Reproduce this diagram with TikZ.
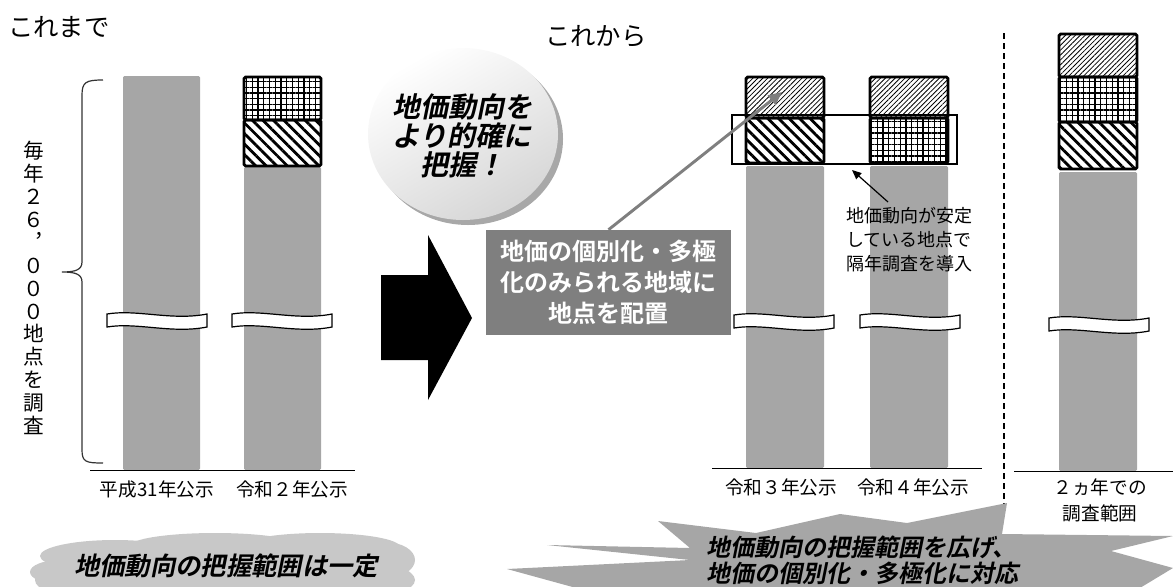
\documentclass[tikz,border=0pt]{standalone}
\usepackage{fontspec}
\setmainfont{Noto Sans CJK JP}
\newfontfamily\jpbi{Noto Sans CJK JP Bold}[FakeSlant=0.2]
\newfontfamily\jpb{Noto Sans CJK JP Bold}
\usetikzlibrary{patterns.meta,arrows.meta,shapes.geometric}
\definecolor{bargray}{HTML}{A6A6A6}
\definecolor{boxgray}{HTML}{7F7F7F}
\definecolor{cloudgray}{HTML}{C8C8C8}
\definecolor{burstgray}{HTML}{A6A6A6}
\definecolor{shadowgray}{HTML}{A8A8A8}
\tikzset{
  bar/.style={fill=bargray, rounded corners=1pt},
  pbox/.style={draw=black, line width=2.2pt, rounded corners=1.2pt},
  fine/.style={pbox, pattern={Lines[angle=45,distance=2.6pt,line width=0.6pt]}},
  wide/.style={pbox, pattern={Lines[angle=-45,distance=5.6pt,line width=2.1pt]}},
  gridp/.style={pbox, pattern={Hatch[angle=0,distance=4.3pt,line width=0.95pt]}},
  baseline/.style={line width=1.1pt},
  lbl/.style={font=\fontsize{14}{18}\selectfont, inner sep=0},
  brk/.pic={\draw[fill=white, line width=0.9pt] (0,0) .. controls (30,-5) and (65,7) .. (100,0) -- (100,13) .. controls (65,20) and (30,8) .. (0,13) -- cycle;}
}
\begin{document}
\begin{tikzpicture}[x=0.75pt,y=-0.75pt]
\useasboundingbox (0,0) rectangle (1173,586);
% headings
\node[anchor=west, inner sep=0, font=\fontsize{19}{22}\selectfont] (h1) at (8,27) {これまで};
\node[anchor=west, inner sep=0, font=\fontsize{19}{22}\selectfont] (h2) at (545,36) {これから};
% left group bars
\fill[bar] (123,76) rectangle (200,470);
\fill[bar] (244,167) rectangle (321,470);
\draw[gridp] (244,77) rectangle (321,120);
\draw[wide] (244,120) rectangle (321,166);
\draw[baseline] (90,470.5) -- (355,470.5);
\pic at (107,314) {brk};
\pic at (232,314) {brk};
\node[lbl] (l1) at (157,489) {平成31年公示};
\node[lbl] (l2) at (292,489) {令和２年公示};
% brace
\draw[line width=0.9pt, black!80] (103,80) .. controls (86,80) and (82,82) .. (82,95) -- (82,262) .. controls (82,270) and (75,272) .. (62,272) .. controls (75,272) and (82,274) .. (82,282) -- (82,450) .. controls (82,462) and (86,463) .. (103,463);
\node[inner sep=0, align=center, font=\fontsize{15.5}{17.2}\selectfont] (vt) at (34,288) {毎\\年\\２\\６\\︐\\０\\０\\０\\地\\点\\を\\調\\査};
% big black arrow
\fill[black] (381,275) -- (428,275) -- (428,235) -- (472,318) -- (428,400) -- (428,360) -- (381,360) -- cycle;
% right group bars
\fill[bar] (746,166) rectangle (824,468);
\fill[bar] (870,166) rectangle (948,468);
\draw[fine] (746,77) rectangle (824,118);
\draw[wide] (746,118) rectangle (824,163);
\draw[fine] (870,77) rectangle (948,118);
\draw[gridp] (870,118) rectangle (948,163);
\draw[baseline] (712,468.5) -- (982,468.5);
\pic at (734,315) {brk};
\pic at (860,315) {brk};
\node[lbl] (l3) at (781,487) {令和３年公示};
\node[lbl] (l4) at (913,487) {令和４年公示};
% highlight band
\node[draw, line width=0.8pt, minimum width=168.75pt, minimum height=36.75pt, inner sep=0] (band) at (844.5,139.5) {};
% dashed divider
\draw[line width=1pt, dash pattern=on 4.5pt off 3pt] (1004,33) -- (1004,507);
% right bar
\fill[bar] (1059,172) rectangle (1137,471);
\draw[fine] (1059,34) rectangle (1137,77);
\draw[gridp] (1059,77) rectangle (1137,122);
\draw[wide] (1059,122) rectangle (1137,169);
\draw[baseline] (1014,471.5) -- (1173,471.5);
\pic at (1049,318) {brk};
\node[lbl, align=center, font=\fontsize{14}{19.5}\selectfont] (l5) at (1100,500) {２ヵ年での\\調査範囲};
% annotation
\node[anchor=north west, inner sep=0, align=left, font=\fontsize{13.5}{18}\selectfont] (ann) at (846,207) {地価動向が安定\\している地点で\\隔年調査を導入};
\coordinate (annStart) at (888,202);
\coordinate (bandTip) at (852,170);
\draw[line width=0.9pt, -{Triangle[length=7pt,width=6pt]}] (annStart) -- (bandTip);
% circle
\fill[shadowgray] (468,139) ellipse [x radius=95, y radius=86];
\shade[shading=axis, top color=white, bottom color=black!16, shading angle=30] (463,134) ellipse [x radius=95, y radius=86];
\node[align=center, inner sep=0, font={\jpbi\fontsize{21}{21.5}\selectfont}] (goal) at (462,136) {地価動向を\\より的確に\\把握！};
% gray box
\node[fill=boxgray, text=white, align=center, minimum width=183.75pt, minimum height=78.75pt, inner sep=0, font={\jpb\fontsize{18}{23}\selectfont}] (gbox) at (608.5,282.5) {地価の個別化・多極\\化のみられる地域に\\地点を配置};
\coordinate (tipA) at (782,92);
\draw[line width=2.2pt, boxgray, -{Triangle[length=10pt,width=9pt]}] (gbox.north) -- (tipA);
% cloud
\fill[cloudgray] (225,580) ellipse [x radius=190, y radius=34];
\fill[cloudgray] (115,556) ellipse [x radius=75, y radius=16];
\fill[cloudgray] (215,546) ellipse [x radius=85, y radius=13];
\fill[cloudgray] (320,547) ellipse [x radius=80, y radius=14];
\fill[cloudgray] (385,560) ellipse [x radius=30, y radius=18];
\fill[cloudgray] (60,572) ellipse [x radius=30, y radius=12];
\node[inner sep=0, font={\jpbi\fontsize{19}{22}\selectfont}] (ct) at (226,566) {地価動向の把握範囲は一定};
% burst
\fill[burstgray] (547,545) -- (690,548) -- (658,521) -- (756,533) -- (840,514) -- (907,523) -- (1007,503) -- (1002,534) -- (1173,536) -- (1111,551) -- (1173,568) -- (1120,600) -- (800,600) -- (620,600) -- (507,569) -- (690,560) -- cycle;
\node[anchor=west, align=left, inner sep=0, font={\jpbi\fontsize{18}{19.5}\selectfont}] (bt) at (706,560) {地価動向の把握範囲を広げ、\\地価の個別化・多極化に対応};
\end{tikzpicture}
\end{document}
